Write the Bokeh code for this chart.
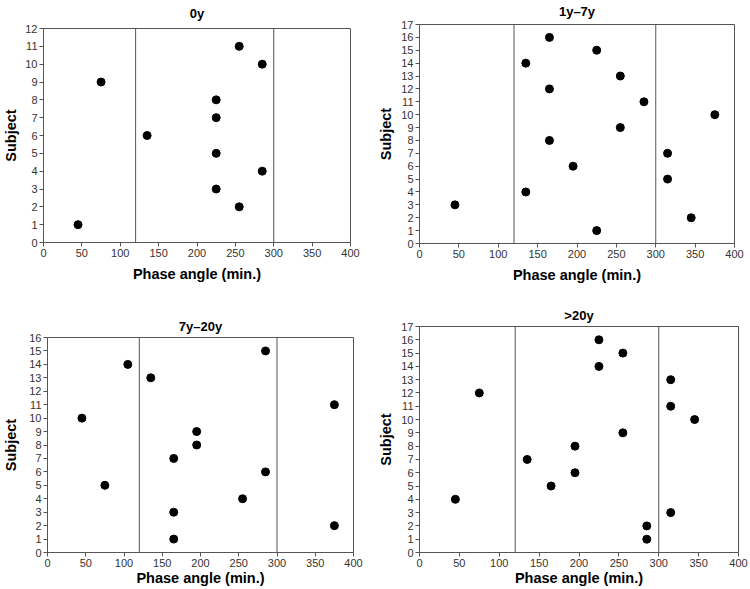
from bokeh.plotting import figure
from bokeh.layouts import column, row
from bokeh.models import FixedTicker, Range1d
from bokeh.embed import file_html
from bokeh.resources import INLINE

# ---- data ----
titles = ["0y", "1y\u20137y", "7y\u201320y", ">20y"]
y_max = [12, 17, 16, 17]
reference_lines = [120, 300]
x_ticks = [0, 50, 100, 150, 200, 250, 300, 350, 400]

phase_0y = [45, 255, 225, 285, 225, 135, 225, 225, 75, 285, 255]
subj_0y = [1, 2, 3, 4, 5, 6, 7, 8, 9, 10, 11]

phase_1_7 = [225, 345, 45, 135, 315, 195, 315, 165, 255, 375, 285, 165, 255, 135, 225, 165]
subj_1_7 = [1, 2, 3, 4, 5, 6, 7, 8, 9, 10, 11, 12, 13, 14, 15, 16]

phase_7_20 = [165, 375, 165, 255, 75, 285, 165, 195, 195, 45, 375, 135, 105, 285]
subj_7_20 = [1, 2, 3, 4, 5, 6, 7, 8, 9, 10, 11, 13, 14, 15]

phase_20 = [285, 285, 315, 45, 165, 195, 135, 195, 255, 345, 315, 75, 315, 225, 255, 225]
subj_20 = [1, 2, 3, 4, 5, 6, 7, 8, 9, 10, 11, 12, 13, 14, 15, 16]

series = [(phase_0y, subj_0y), (phase_1_7, subj_1_7), (phase_7_20, subj_7_20), (phase_20, subj_20)]

# layout (w, h, left, right, top, bottom, title standoff, x label standoff, y label standoff)
geom = [
    (375, 285, 43, 25, 27, 43, 11, 6, 3),
    (373, 285, 43, 14, 23, 41, 7, 6, 4),
    (375, 303, 47, 22, 52, 34, 4, 0, 7),
    (373, 303, 42, 10, 41, 35, 3, 0, 4),
]

FONT = "Liberation Sans"
LINE = "#555555"

figs = []
for i in range(4):
    w, h, l, r, t, b, ts, xso, yso = geom[i]
    xs, ys = series[i]
    p = figure(width=w, height=h, output_backend="svg", toolbar_location=None,
               x_range=Range1d(0, 400), y_range=Range1d(0, y_max[i]),
               min_border_left=l, min_border_right=r, min_border_top=t, min_border_bottom=b,
               title=titles[i])
    p.title.text_font = FONT
    p.title.text_font_size = "13px"
    p.title.text_font_style = "bold"
    p.title.align = "center"
    p.title.vertical_align = "top"
    p.title.text_color = "black"
    p.title.standoff = ts
    p.title.offset = 0

    p.xgrid.visible = False
    p.ygrid.visible = False
    p.outline_line_color = LINE
    p.outline_line_alpha = 1
    p.outline_line_width = 1

    for ax in (p.xaxis[0], p.yaxis[0]):
        ax.axis_line_color = LINE
        ax.major_tick_line_color = LINE
        ax.minor_tick_line_color = None
        ax.major_tick_out = 4
        ax.major_tick_in = 0
        ax.major_label_text_font = FONT
        ax.major_label_text_font_size = "11px"
        ax.major_label_text_color = "#333333"
        ax.major_label_standoff = 2
        ax.axis_label_text_font = FONT
        ax.axis_label_text_font_style = "bold"
        ax.axis_label_text_font_size = "14.5px"
        ax.axis_label_text_color = "black"
    p.xaxis[0].axis_label_standoff = xso
    p.yaxis[0].axis_label_standoff = yso

    p.xaxis.ticker = FixedTicker(ticks=x_ticks)
    p.yaxis.ticker = FixedTicker(ticks=list(range(0, y_max[i] + 1)))
    p.xaxis.axis_label = "Phase angle (min.)"
    p.yaxis.axis_label = "Subject"

    p.segment(x0=reference_lines, x1=reference_lines,
              y0=[0] * len(reference_lines), y1=[y_max[i]] * len(reference_lines),
              line_color=LINE, line_width=1)
    p.scatter(xs, ys, size=8, color="black")
    figs.append(p)

layout = column(row(column(figs[0]), column(figs[1])),
                row(column(figs[2]), column(figs[3])))
open("out.html", "w").write(file_html(layout, INLINE))
